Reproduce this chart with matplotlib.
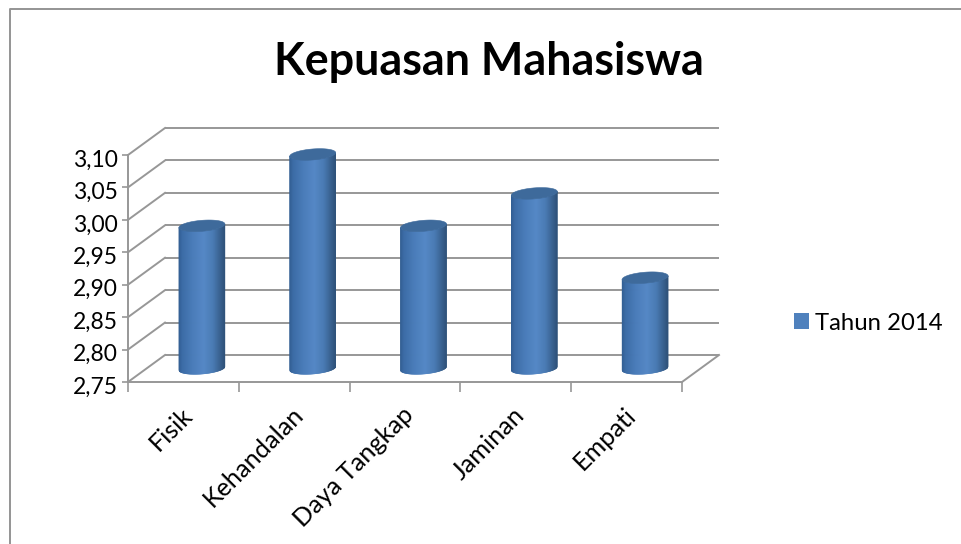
import numpy as np
import matplotlib
matplotlib.use("Agg")
import matplotlib.pyplot as plt
from matplotlib.collections import PolyCollection
from matplotlib.colors import LinearSegmentedColormap
from matplotlib.lines import Line2D
from matplotlib.patches import Patch, Polygon
from matplotlib.transforms import Affine2D, IdentityTransform

plt.rcParams['font.family'] = ['Lato', 'DejaVu Sans']

title = "Kepuasan Mahasiswa"
series_name = "Tahun 2014"
categories = ["Fisik", "Kehandalan", "Daya Tangkap", "Jaminan", "Empati"]
values = [2.97, 3.08, 2.97, 3.02, 2.89]
y_ticks = [2.75, 2.80, 2.85, 2.90, 2.95, 3.00, 3.05, 3.10]
y_labels = ["2,75", "2,80", "2,85", "2,90", "2,95", "3,00", "3,05", "3,10"]

W, H = 961, 544
DX, DY = 37, 27
GRID = "#979797"

fig = plt.figure(figsize=(W / 100, H / 100), dpi=100, facecolor="white")
ax = fig.add_axes([128 / W, 1 - 382 / H, (682 - 128) / W, (382 - 155) / H])
ax.set_xlim(0, len(categories))
ax.set_ylim(2.75, 3.10)
ax.patch.set_visible(False)
for s in ax.spines.values():
    s.set_visible(False)
for side in ('left', 'bottom'):
    ax.spines[side].set_visible(True)
    ax.spines[side].set_color(GRID)
    ax.spines[side].set_linewidth(1.4)

back = Affine2D().translate(DX, DY) + IdentityTransform()
back_tr = ax.transData + back
for v in y_ticks:
    ax.plot([0, len(categories)], [v, v], color=GRID, lw=1.4, transform=back_tr,
            clip_on=False, zorder=1, solid_capstyle='butt')
    x0, y0 = ax.transData.transform((0, v))
    ax.add_line(Line2D([x0, x0 + DX], [y0, y0 + DY], color=GRID, lw=1.4,
                       transform=IdentityTransform(), clip_on=False, zorder=1))
xr, yr = ax.transData.transform((len(categories), y_ticks[0]))
ax.add_line(Line2D([xr, xr + DX], [yr, yr + DY], color=GRID, lw=1.4,
                   transform=IdentityTransform(), clip_on=False, zorder=1))

ax.set_yticks(y_ticks, y_labels)
ax.set_xticks(np.arange(len(categories) + 1))
ax.set_xticklabels([])
ax.tick_params(axis='y', length=4.5, width=1.2, color=GRID, labelsize=16.5, pad=3, labelcolor="black")
ax.tick_params(axis='x', length=7.5, width=1.2, color=GRID)
for lbl in ax.get_yticklabels():
    lbl.set_transform(lbl.get_transform() + Affine2D().translate(0, -3))

# Cylinders
cmap = LinearSegmentedColormap.from_list("cyl", [
    (0.0, "#325e92"), (0.08, "#3c6ca6"), (0.3, "#4a7cb9"), (0.55, "#5588c6"),
    (0.75, "#4a7bb4"), (0.9, "#3a6391"), (1.0, "#2f527a")])
half_w = 23
ell_h = 5.5
tilt = 1.8
ts = np.linspace(-1, 1, 93)
for i, v in enumerate(values):
    cx, y_top = ax.transData.transform((i + 0.5, v))
    _, y_bot = ax.transData.transform((i + 0.5, y_ticks[0]))
    cx += DX / 2
    y_top += DY / 2
    y_bot += DY / 2
    lower = lambda t: -ell_h * np.sqrt(np.clip(1 - t ** 2, 0, 1)) + tilt * t
    polys, cols = [], []
    for a, b in zip(ts[:-1], ts[1:]):
        polys.append([(cx + a * half_w, y_top + lower(a)), (cx + b * half_w, y_top + lower(b)),
                      (cx + b * half_w, y_bot + lower(b)), (cx + a * half_w, y_bot + lower(a))])
        cols.append(cmap((a + b + 2) / 4))
    pc = PolyCollection(polys, facecolors=cols, edgecolors=cols, linewidths=0.4,
                        transform=IdentityTransform(), clip_on=False, zorder=3)
    ax.add_collection(pc, autolim=False)
    th = np.linspace(0, 2 * np.pi, 80)
    t_c = np.cos(th)
    ell = np.column_stack([cx + half_w * t_c, y_top + ell_h * np.sin(th) + tilt * t_c])
    ax.add_patch(Polygon(ell, closed=True, facecolor="#3e6a9b", edgecolor="#3e6a9b", lw=0.4,
                         transform=IdentityTransform(), clip_on=False, zorder=4))

# Category labels, rotated
for i, name in enumerate(categories):
    ax.annotate(name, xy=(i + 0.5, 0), xycoords=ax.get_xaxis_transform(),
                xytext=(5, -29), textcoords='offset pixels', rotation=45,
                rotation_mode='anchor', ha='right', va='center', fontsize=18.2, color="black",
                annotation_clip=False)

fig.text(489 / W, 1 - 62 / H, title, ha='center', va='center', fontsize=32.3, fontweight='bold', color="black")

handle = Patch(facecolor="#4f81bd", edgecolor="none", label=series_name)
fig.legend(handles=[handle], loc='center left', bbox_to_anchor=(786.5 / W, 1 - 323 / H),
           frameon=False, fontsize=17.2, handlelength=0.63, handleheight=0.63, handletextpad=0.27,
           borderpad=0.3, borderaxespad=0)

# Outer chart frame
fig.add_artist(Line2D([9.5 / W, 9.5 / W, 1], [0, 1 - 9 / H, 1 - 9 / H],
                      color="#949494", lw=1.4, transform=fig.transFigure))

fig.savefig("out.png", dpi=100, facecolor="white")
